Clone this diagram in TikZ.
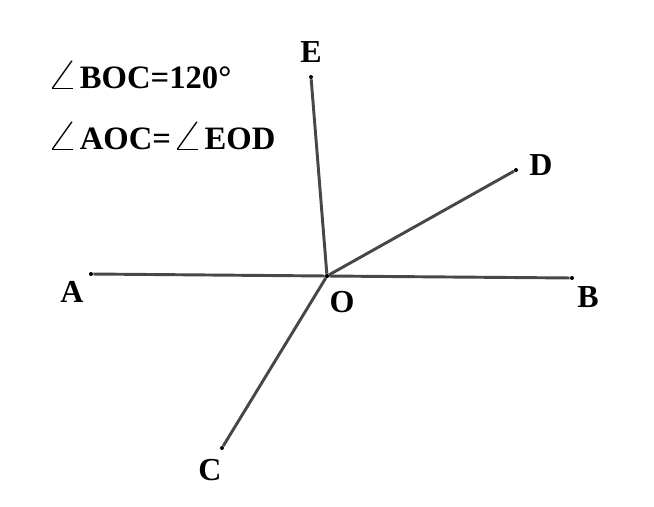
\documentclass[tikz,border=0pt]{standalone}
\usepackage{fontspec}
\setmainfont{Liberation Serif}
\newcommand{\ang}{\scalebox{1.8}[1.3]{$\angle$}\kern1pt}
\begin{document}
\begin{tikzpicture}[
            x=0.75pt, y=-0.75pt,
            dot/.style={
                circle,
                fill=black,
                inner sep=0pt,
                minimum size=3pt
            },
            ray/.style={
                draw=black!72,
                line width=2.2pt
            },
            lab/.style={
                font=\bfseries\fontsize{24}{24}\selectfont,
                inner sep=0pt
            },
            txt/.style={
                font=\bfseries\fontsize{24.5}{25}\selectfont,
                inner sep=0pt,
                anchor=west
            }
        ]
        \useasboundingbox (0,0) rectangle (654,507);

        % Points
        \node[dot] (O) at (327,276) {};
        \node[dot] (A) at (91,274) {};
        \node[dot] (B) at (572,278) {};
        \node[dot] (E) at (311,77) {};
        \node[dot] (D) at (516,170) {};
        \node[dot] (C) at (222,448) {};

        % Rays
        \draw[ray] (O) -- (A);
        \draw[ray] (O) -- (B);
        \draw[ray] (O) -- (E);
        \draw[ray] (O) -- (D);
        \draw[ray] (O) -- (C);
        \node[dot] at (O) {};

        % Labels
        \node[lab] (lA) at (72,292) {A};
        \node[lab] (lB) at (588,297) {B};
        \node[lab] (lO) at (342,302) {O};
        \node[lab] (lE) at (311,52) {E};
        \node[lab] (lD) at (541,165) {D};
        \node[lab] (lC) at (210,470) {C};

        % Givens
        \node[txt] (t1) at (46,75) {\ang BOC=120°};
        \node[txt] (t2) at (46,136) {\ang AOC=\ang EOD};

        \end{tikzpicture}
\end{document}
